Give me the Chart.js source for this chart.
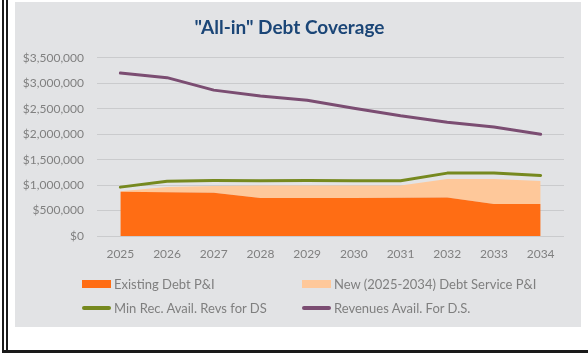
<!DOCTYPE html>
<html>
<head>
<meta charset="utf-8">
<script src="https://cdn.jsdelivr.net/npm/chart.js@4.4.1/dist/chart.umd.min.js"></script>
<style>
    html, body { margin: 0; padding: 0; background: #fff; }
    body { width: 588px; height: 353px; position: relative; overflow: hidden; font-family: Lato, 'Open Sans', sans-serif; }
    .borda-v { position: absolute; top: 0; bottom: 0; width: 2px; background: #1a1a1a; }
    .borda-h { position: absolute; left: 2px; right: 0; bottom: 0; height: 3px; background: #1a1a1a; }
    .painel { position: absolute; left: 15px; top: 2px; width: 566px; height: 325px; background: #e2e3e5; }
    .painel canvas { position: absolute; left: 0; top: 0; }
    .legenda { position: absolute; left: 0; top: 0; width: 100%; height: 100%; pointer-events: none; }
    .item-legenda { position: absolute; display: flex; align-items: center; font-size: 13px; color: #7f7f7f; white-space: nowrap; }
    .simbolo { width: 29px; margin-right: 3px; }
</style>
</head>
<body>
<div class="borda-v" style="left:2px"></div>
<div class="borda-v" style="left:6px"></div>
<div class="borda-h"></div>
<div class="painel">
    <canvas id="grafico-cobertura" width="566" height="325"></canvas>
    <div class="legenda" id="legenda"></div>
</div>
<script>
const anos = ['2025', '2026', '2027', '2028', '2029', '2030', '2031', '2032', '2033', '2034'];
const dividaExistente = [870000, 860000, 850000, 745000, 745000, 745000, 750000, 755000, 630000, 630000];
const novaDivida = [10000, 100000, 130000, 245000, 245000, 245000, 240000, 365000, 490000, 450000];
const minimoReceitas = [960000, 1075000, 1090000, 1085000, 1090000, 1085000, 1085000, 1235000, 1235000, 1190000];
const receitasDisponiveis = [3200000, 3110000, 2865000, 2750000, 2665000, 2510000, 2360000, 2235000, 2140000, 2000000];
const rotulosEixoY = ['$0', '$500,000', '$1,000,000', '$1,500,000', '$2,000,000', '$2,500,000', '$3,000,000', '$3,500,000'];

const CORES = {
    existente: '#ff6d14',
    nova: '#fec89a',
    minimo: '#76891f',
    receitas: '#7b4d72',
    texto: '#808080',
    grade: '#cacbcd',
    titulo: '#1b4677'
};

const series = [
    { label: 'Existing Debt P&I', data: dividaExistente, cor: CORES.existente, tipo: 'area', stack: 'divida', fill: 'origin', order: 2 },
    { label: 'New (2025-2034) Debt Service P&I', data: novaDivida, cor: CORES.nova, tipo: 'area', stack: 'divida', fill: '-1', order: 3 },
    { label: 'Min Rec. Avail. Revs for DS', data: minimoReceitas, cor: CORES.minimo, tipo: 'linha', stack: 'minimo', fill: false, order: 1 },
    { label: 'Revenues Avail. For D.S.', data: receitasDisponiveis, cor: CORES.receitas, tipo: 'linha', stack: 'receitas', fill: false, order: 0 }
];

const fonteEixo = { family: 'Lato', size: 12 };

new Chart(document.getElementById('grafico-cobertura'), {
    type: 'line',
    data: {
        labels: anos,
        datasets: series.map(s => ({
            label: s.label,
            data: s.data,
            stack: s.stack,
            fill: s.fill,
            order: s.order,
            backgroundColor: s.cor,
            borderColor: s.tipo === 'linha' ? s.cor : 'transparent',
            borderWidth: s.tipo === 'linha' ? 3 : 0,
            pointRadius: 0,
            tension: 0,
            borderCapStyle: 'round',
            borderJoinStyle: 'round'
        }))
    },
    options: {
        responsive: false,
        animation: false,
        layout: { padding: { left: 0, right: 17, top: 0, bottom: 61 } },
        plugins: {
            legend: { display: false },
            tooltip: { enabled: false },
            title: {
                display: true,
                text: '"All-in" Debt Coverage',
                color: CORES.titulo,
                font: { family: 'Lato', size: 19, weight: 'bold' },
                padding: { top: 14, bottom: 19 }
            }
        },
        scales: {
            x: {
                offset: true,
                border: { display: false },
                grid: { display: false, drawTicks: false },
                ticks: { color: CORES.texto, font: fonteEixo, padding: 11, maxRotation: 0 },
                afterFit: escala => { escala.height = 30; }
            },
            y: {
                stacked: true,
                min: 0,
                max: 3500000,
                border: { display: false },
                grid: { color: CORES.grade, lineWidth: 1, drawTicks: false },
                ticks: {
                    stepSize: 500000,
                    color: CORES.texto,
                    font: fonteEixo,
                    padding: 13,
                    callback: (valor) => rotulosEixoY[Math.round(valor / 500000)]
                },
                afterFit: escala => { escala.width = 82; }
            }
        }
    }
});

// legenda em duas colunas, como no original
const posicoesLegenda = [
    { left: 67, top: 281.5 },
    { left: 287, top: 281.5 },
    { left: 67, top: 306 },
    { left: 287, top: 306 }
];
const legenda = document.getElementById('legenda');
legenda.innerHTML = series.map((s, i) => `
    <div class="item-legenda" style="left:${posicoesLegenda[i].left}px; top:${posicoesLegenda[i].top - 8}px; height:16px;">
        <span class="simbolo" style="height:${s.tipo === 'area' ? 8 : 3.5}px; background:${s.cor}; border-radius:${s.tipo === 'area' ? 0 : 2}px"></span>
        <span>${s.label}</span>
    </div>
`).join('');
</script>
</body>
</html>
